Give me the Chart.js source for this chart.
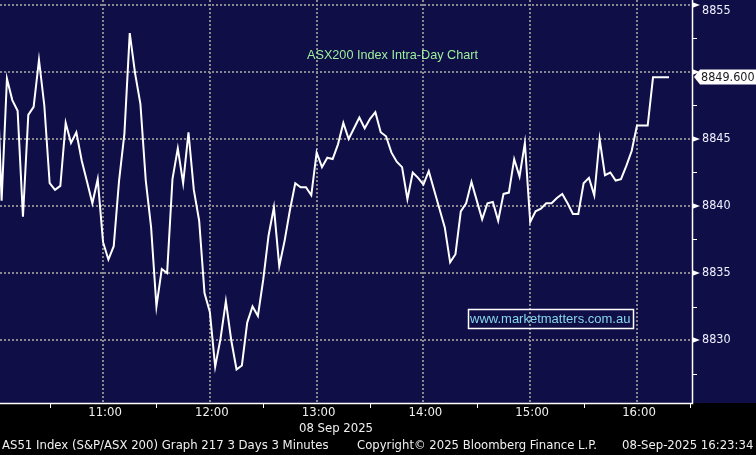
<!DOCTYPE html>
<html>
<head>
<meta charset="utf-8">
<script src="https://cdn.jsdelivr.net/npm/chart.js@4/dist/chart.umd.min.js"></script>
<style>
    html, body { margin: 0; padding: 0; background: #000; }
    #cadre { width: 756px; height: 455px; }
</style>
</head>
<body>
<div id="cadre"><canvas id="graphique-asx" width="756" height="455"></canvas></div>
<script>
// ASX200 intra-day, 3 minute bars from 10:00 (minutes after 10:00)
const prix = [
    8851.5, 8840.4, 8849.5, 8847.9, 8847.1, 8839.2, 8846.8, 8847.4, 8850.9, 8847.5,
    8841.7, 8841.2, 8841.5, 8846.2, 8844.7, 8845.5, 8843.4, 8841.8, 8840.2, 8842.0,
    8837.3, 8836.0, 8837.0, 8841.9, 8845.4, 8852.9, 8849.9, 8847.6, 8841.9, 8838.4,
    8832.5, 8835.3, 8835.0, 8842.0, 8844.3, 8841.7, 8845.5, 8841.2, 8838.9, 8833.5,
    8832.1, 8828.0, 8830.1, 8832.9, 8830.0, 8827.8, 8828.1, 8831.3, 8832.5, 8831.8,
    8834.5, 8837.8, 8839.9, 8835.5, 8837.4, 8839.7, 8841.7, 8841.4, 8841.4, 8840.8,
    8844.0, 8842.9, 8843.6, 8843.5, 8844.6, 8846.2, 8845.0, 8845.8, 8846.6, 8845.8,
    8846.5, 8847.0, 8845.5, 8845.2, 8844.0, 8843.3, 8842.9, 8840.5, 8842.5, 8842.1,
    8841.6, 8842.6, 8841.2, 8839.8, 8838.4, 8835.8, 8836.4, 8839.6, 8840.2, 8841.8,
    8840.4, 8839.0, 8840.2, 8840.3, 8838.9, 8840.9, 8841.0, 8843.5, 8842.2, 8844.7,
    8838.8, 8839.6, 8839.8, 8840.2, 8840.2, 8840.6, 8840.9, 8840.2, 8839.4, 8839.4,
    8841.7, 8842.1, 8840.8, 8845.0, 8842.3, 8842.5, 8841.9, 8842.0, 8843.0, 8844.1,
    8846.0, 8846.0, 8846.0, 8849.6, 8849.6, 8849.6, 8849.6
];
const pasMinutes = 3;

// time axis ticks (minutes after 10:00) and labels
const heuresTicks = [30, 60, 90, 120, 150, 180, 210, 240, 270, 300, 330, 360, 390];
const heuresLabels = { 60: "11:00", 120: "12:00", 180: "13:00", 240: "14:00", 300: "15:00", 360: "16:00" };

// price axis ticks
const niveauxTicks = [8827.5, 8830, 8832.5, 8835, 8837.5, 8840, 8842.5, 8845, 8847.5, 8850, 8852.5, 8855];
const niveauxLabels = [8830, 8835, 8840, 8845, 8850, 8855];
const dernierPrix = 8849.6;

const points = [];
for (let i = 0; i < prix.length; i++) {
    points.push({ x: i * pasMinutes, y: prix[i] });
}

const bleuFond = "#100e47";
const gris = "rgba(150, 150, 150, 0.9)";
const policeBbg = "'DejaVu Sans Condensed', 'DejaVu Sans', sans-serif";

const decor = {
    id: "decor",
    beforeDraw(chart) {
        const ctx = chart.ctx;
        ctx.save();
        ctx.fillStyle = "#000";
        ctx.fillRect(0, 0, chart.width, chart.height);
        ctx.fillStyle = bleuFond;
        ctx.fillRect(0, 0, chart.width, chart.chartArea.bottom);
        ctx.restore();
    },
    afterDraw(chart) {
        const ctx = chart.ctx;
        const zone = chart.chartArea;
        const sx = chart.scales.x;
        const sy = chart.scales.y;
        ctx.save();

        // axis lines
        ctx.strokeStyle = "#fff";
        ctx.lineWidth = 1.5;
        ctx.beginPath();
        ctx.moveTo(zone.left, zone.bottom + 0.5);
        ctx.lineTo(zone.right + 0.5, zone.bottom + 0.5);
        ctx.lineTo(zone.right + 0.5, 0);
        ctx.stroke();

        // y ticks: triangles on majors, short lines on minors
        ctx.fillStyle = "#fff";
        ctx.lineWidth = 1;
        for (let v of niveauxTicks) {
            const y = Math.round(sy.getPixelForValue(v));
            if (niveauxLabels.includes(v)) {
                ctx.beginPath();
                ctx.moveTo(zone.right, y - 3);
                ctx.lineTo(zone.right + 8, y);
                ctx.lineTo(zone.right, y + 3);
                ctx.closePath();
                ctx.fill();
            } else {
                ctx.beginPath();
                ctx.moveTo(zone.right, y + 0.5);
                ctx.lineTo(zone.right + 5, y + 0.5);
                ctx.stroke();
            }
        }

        // y labels (the one hidden by the last price tag is skipped)
        const yp = Math.round(sy.getPixelForValue(dernierPrix));
        ctx.font = "12.5px " + policeBbg;
        ctx.fillStyle = "#eef0ff";
        ctx.textAlign = "left";
        ctx.textBaseline = "middle";
        for (let v of niveauxLabels) {
            const y = Math.max(sy.getPixelForValue(v), 11);
            if (Math.abs(y - yp) < 14) continue;
            ctx.fillText(String(v), zone.right + 10, y);
        }

        // last price tag
        ctx.fillStyle = "#fff";
        ctx.beginPath();
        ctx.moveTo(zone.right + 2, yp);
        ctx.lineTo(zone.right + 8, yp - 7.5);
        ctx.lineTo(chart.width, yp - 7.5);
        ctx.lineTo(chart.width, yp + 7.5);
        ctx.lineTo(zone.right + 8, yp + 7.5);
        ctx.closePath();
        ctx.fill();
        ctx.fillStyle = "#1a1a1a";
        ctx.fillText(dernierPrix.toFixed(3), zone.right + 9, yp + 1);

        // x minor ticks (half hours)
        ctx.strokeStyle = "#fff";
        for (let v of heuresTicks) {
            if (v % 60 === 0) continue;
            const x = Math.round(sx.getPixelForValue(v)) + 0.5;
            ctx.beginPath();
            ctx.moveTo(x, zone.bottom);
            ctx.lineTo(x, zone.bottom + 5);
            ctx.stroke();
        }

        // title inside the plot
        ctx.font = "13px 'Liberation Sans', Arial, sans-serif";
        ctx.fillStyle = "#9cf09c";
        ctx.textAlign = "left";
        ctx.fillText("ASX200 Index Intra-Day Chart", 307, 55, 171);

        // watermark
        ctx.strokeStyle = "#fff";
        ctx.lineWidth = 1.5;
        ctx.strokeRect(468.5, 309.5, 165, 19);
        ctx.fillStyle = "#86d6ea";
        ctx.fillText("www.marketmatters.com.au", 470, 319.5, 161);

        // date under the axis and footer
        ctx.font = "13px " + policeBbg;
        ctx.fillStyle = "#f0f0f0";
        ctx.textAlign = "center";
        ctx.fillText("08 Sep 2025", 336, 429);
        ctx.textAlign = "left";
        ctx.fillText("AS51 Index (S&P/ASX 200) Graph 217 3 Days 3 Minutes", 2, 446, 331);
        ctx.fillText("Copyright\u00A9 2025 Bloomberg Finance L.P.", 357, 446, 240);
        ctx.fillText("08-Sep-2025 16:23:34", 622, 446, 133);

        ctx.restore();
    }
};

const config = {
    type: "line",
    data: {
        datasets: [{
            label: "AS51",
            data: points,
            borderColor: "#ffffff",
            borderWidth: 2,
            pointRadius: 0,
            tension: 0,
        }],
    },
    options: {
        responsive: false,
        animation: false,
        devicePixelRatio: 1,
        layout: { padding: 0 },
        plugins: {
            legend: { display: false },
            tooltip: { enabled: false },
        },
        scales: {
            x: {
                type: "linear",
                position: "bottom",
                min: 2.1,
                max: 390.9,
                afterFit: (scale) => { scale.height = 52; },
                afterBuildTicks: (scale) => { scale.ticks = heuresTicks.map(v => ({ value: v })); },
                ticks: {
                    autoSkip: false,
                    maxRotation: 0,
                    padding: 2,
                    labelOffset: 2,
                    color: "#f0f0f0",
                    font: { family: policeBbg, size: 13 },
                    callback: (v) => heuresLabels[v] || "",
                },
                grid: {
                    color: (c) => (c.tick && c.tick.value % 60 === 0 ? gris : "transparent"),
                    lineWidth: 2,
                    drawTicks: false,
                },
                border: { display: false, dash: [2, 2] },
            },
            y: {
                position: "right",
                min: 8825.3,
                max: 8855.37,
                afterFit: (scale) => { scale.width = 64; },
                afterBuildTicks: (scale) => { scale.ticks = niveauxTicks.map(v => ({ value: v })); },
                ticks: { display: false },
                grid: {
                    color: (c) => (c.tick && niveauxLabels.includes(c.tick.value) ? gris : "transparent"),
                    lineWidth: 2,
                    drawTicks: false,
                },
                border: { display: false, dash: [2, 2] },
            },
        },
    },
    plugins: [decor],
};

new Chart(document.querySelector("#graphique-asx"), config);
</script>
</body>
</html>
